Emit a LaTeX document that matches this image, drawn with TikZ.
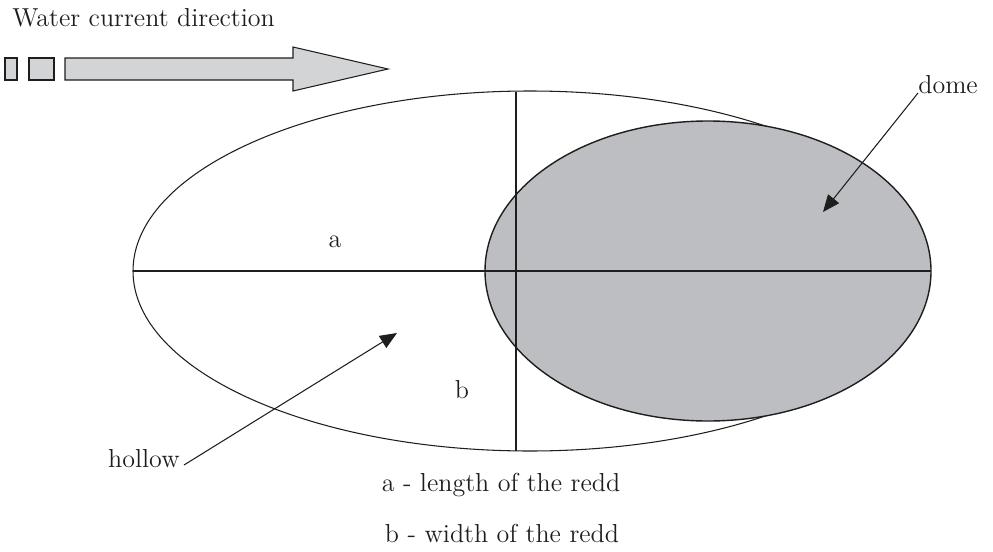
\documentclass[tikz,border=0pt]{standalone}
\usepackage{xcolor}
\usepackage{tikz}
\usetikzlibrary{arrows.meta}
\definecolor{flow}{RGB}{211,212,214}
\definecolor{domegray}{RGB}{189,190,194}
\definecolor{ink}{RGB}{30,30,30}

\begin{document}
\begin{tikzpicture}[
  x=0.02cm, y=-0.02cm,
  font=\fontsize{14.8}{17}\selectfont,
  lbl/.style={inner sep=0pt, text=ink},
  outline/.style={draw=ink, line width=0.6pt},
  ptr/.style={-{Triangle[length=3.4mm,width=2.8mm]}, draw=ink, line width=0.6pt},
]
  \useasboundingbox (0,0) rectangle (993,551);

  % Current direction
  \node[lbl, anchor=base west] (current) at (12,27) {Water current direction};
  \draw[outline, fill=flow] (5,58) rectangle (17,80);
  \draw[outline, fill=flow] (29,58) rectangle (54,80);
  \draw[outline, fill=flow] (65,58) -- (293,58) -- (293,47) -- (388,69)
    -- (293,91) -- (293,80) -- (65,80) -- cycle;

  % Redd and dome
  \draw[outline, fill=white] (530,271) ellipse [x radius=397, y radius=180];
  \draw[outline, fill=domegray, line width=0.8pt] (708,271) ellipse [x radius=223, y radius=150];

  % Axes a and b
  \coordinate (aL) at (133,271);
  \coordinate (aR) at (931,271);
  \coordinate (bT) at (516,92);
  \coordinate (bB) at (516,451);
  \draw[outline] (aL) -- (aR);
  \draw[outline] (bT) -- (bB);
  \node[lbl] (a) at (335,242) {a};
  \node[lbl] (b) at (462,390) {b};

  % Pointers
  \node[lbl, anchor=base west] (dome) at (918,93) {dome};
  \coordinate (domeTip) at (823,212);
  \draw[ptr] (dome.base west) -- (domeTip);
  \node[lbl, anchor=base east] (hollow) at (180,467) {hollow};
  \coordinate (hollowTip) at (397,333);
  \draw[ptr] ([xshift=0.08cm,yshift=0.04cm]hollow.base east) -- (hollowTip);

  % Legend
  \node[lbl] (lega) at (501,485) {a - length of the redd};
  \node[lbl] (legb) at (502,533) {b - width of the redd};
\end{tikzpicture}
\end{document}
